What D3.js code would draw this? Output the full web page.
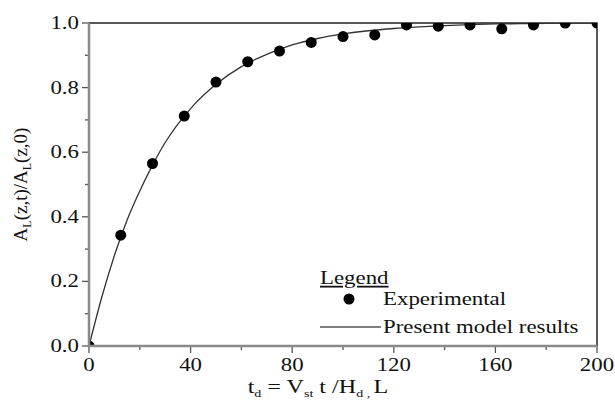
<!DOCTYPE html>
<html>
<head>
<meta charset="utf-8">
<script src="https://cdn.jsdelivr.net/npm/d3@7"></script>
<style>
  body { margin: 0; background: #fff; }
  svg text { font-family: 'Liberation Serif', 'Times New Roman', serif; fill: #111; }
</style>
</head>
<body>
<div id="chart"></div>
<script>
// experimental points
const expT = [0, 12.5, 25, 37.5, 50, 62.5, 75, 87.5, 100, 112.5, 125, 137.5, 150, 162.5, 175, 187.5, 200];
const expA = [0, 0.343, 0.565, 0.712, 0.817, 0.88, 0.913, 0.94, 0.958, 0.963, 0.994, 0.99, 0.994, 0.982, 0.994, 1.0, 1.0];

// model curve
const modelT = [0, 5, 10, 15, 20, 25, 30, 40, 50, 60, 70, 80, 90, 100, 110, 120, 130, 140, 150, 160, 170, 180, 190, 200];
const modelA = [0, 0.15, 0.28, 0.39, 0.48, 0.56, 0.63, 0.735, 0.81, 0.865, 0.903, 0.932, 0.952, 0.966, 0.976, 0.983, 0.988, 0.992, 0.995, 0.997, 0.998, 0.999, 1.0, 1.0];

const xMajor = [0, 40, 80, 120, 160, 200];
const xMinor = [20, 60, 100, 140, 180];
const yMajor = [0, 0.2, 0.4, 0.6, 0.8, 1.0];
const yMinor = [0.1, 0.3, 0.5, 0.7, 0.9];

const width = 615, height = 403;
const m = { left: 89, right: 18, top: 23, bottom: 57 };
const sx = 1.27; // the picture is stretched sideways

const svg = d3.select('#chart').append('svg')
  .attr('width', width)
  .attr('height', height);

const x = d3.scaleLinear().domain([0, 200]).range([m.left, width - m.right]);
const y = d3.scaleLinear().domain([0, 1]).range([height - m.bottom, m.top]);

// text that is stretched horizontally like the original
function label(g, px, py, str, anchor, size) {
  return g.append('text')
    .attr('transform', `translate(${px},${py}) scale(${sx},1)`)
    .attr('text-anchor', anchor)
    .attr('font-size', size)
    .text(str);
}

svg.append('clipPath').attr('id', 'plotClip')
  .append('rect')
  .attr('x', x(0)).attr('y', y(1))
  .attr('width', x(200) - x(0)).attr('height', y(0) - y(1));

// top and right frame
svg.append('path')
  .attr('d', `M${x(0)},${y(1)}H${x(200)}V${y(0)}`)
  .attr('fill', 'none')
  .attr('stroke', '#222')
  .attr('stroke-width', 1.5);

// model line
const line = d3.line()
  .x((d, i) => x(modelT[i]))
  .y(d => y(d))
  .curve(d3.curveMonotoneX);

const plot = svg.append('g').attr('clip-path', 'url(#plotClip)');
plot.append('path')
  .datum(modelA)
  .attr('d', line)
  .attr('fill', 'none')
  .attr('stroke', '#333')
  .attr('stroke-width', 1.3);

plot.selectAll('circle.exp')
  .data(expA)
  .enter().append('circle')
  .attr('class', 'exp')
  .attr('cx', (d, i) => x(expT[i]))
  .attr('cy', d => y(d))
  .attr('r', 5.5)
  .attr('fill', '#000');

// left + bottom axes (gray, thicker)
const axisG = svg.append('g');
axisG.selectAll('line.yt')
  .data(yMajor.map(v => [v, 7]).concat(yMinor.map(v => [v, 4])))
  .enter().append('line')
  .attr('x1', x(0)).attr('x2', d => x(0) - d[1])
  .attr('y1', d => y(d[0])).attr('y2', d => y(d[0]))
  .attr('stroke', '#555').attr('stroke-width', 1.3);
axisG.selectAll('line.xt')
  .data(xMajor.map(v => [v, 7]).concat(xMinor.map(v => [v, 4])))
  .enter().append('line')
  .attr('x1', d => x(d[0])).attr('x2', d => x(d[0]))
  .attr('y1', y(0)).attr('y2', d => y(0) + d[1])
  .attr('stroke', '#555').attr('stroke-width', 1.3);

axisG.append('path')
  .attr('d', `M${x(0)},${y(1)}V${y(0)}H${x(200)}`)
  .attr('fill', 'none')
  .attr('stroke', '#8a8a8a')
  .attr('stroke-width', 2.5);

yMajor.forEach(v => label(svg, x(0) - 10, y(v) + 6, d3.format('.1f')(v), 'end', 18));
xMajor.forEach(v => label(svg, x(v), y(0) + 25, v, 'middle', 18));

// y axis title
const yt = svg.append('text')
  .attr('transform', `translate(27,${(y(0) + y(1)) / 2}) rotate(-90)`)
  .attr('text-anchor', 'middle')
  .attr('font-size', 19);
yt.append('tspan').text('A');
yt.append('tspan').attr('font-size', 12).attr('dy', 4).text('L');
yt.append('tspan').attr('dy', -4).text('(z,t)/A');
yt.append('tspan').attr('font-size', 12).attr('dy', 4).text('L');
yt.append('tspan').attr('dy', -4).text('(z,0)');

// x axis title
const xt = svg.append('text')
  .attr('transform', `translate(${(x(0) + x(200)) / 2 - 25},393) scale(${sx},1)`)
  .attr('text-anchor', 'middle')
  .attr('font-size', 19);
xt.append('tspan').text('t');
xt.append('tspan').attr('font-size', 11).attr('dy', 4).text('d');
xt.append('tspan').attr('dy', -4).text(' = V');
xt.append('tspan').attr('font-size', 11).attr('dy', 4).text('st');
xt.append('tspan').attr('dy', -4).text(' t /H');
xt.append('tspan').attr('font-size', 11).attr('dy', 4).text('d , ');
xt.append('tspan').attr('dy', -4).text(' L');

// legend
const lg = svg.append('g');
label(lg, 320, 284, 'Legend', 'start', 18).attr('text-decoration', 'underline');
lg.append('circle').attr('cx', 349).attr('cy', 299).attr('r', 5.5).attr('fill', '#000');
label(lg, 383, 305, 'Experimental', 'start', 18);
lg.append('line')
  .attr('x1', 320).attr('x2', 381).attr('y1', 327).attr('y2', 327)
  .attr('stroke', '#555').attr('stroke-width', 1.5);
label(lg, 383, 333, 'Present model results', 'start', 18);
</script>
</body>
</html>
